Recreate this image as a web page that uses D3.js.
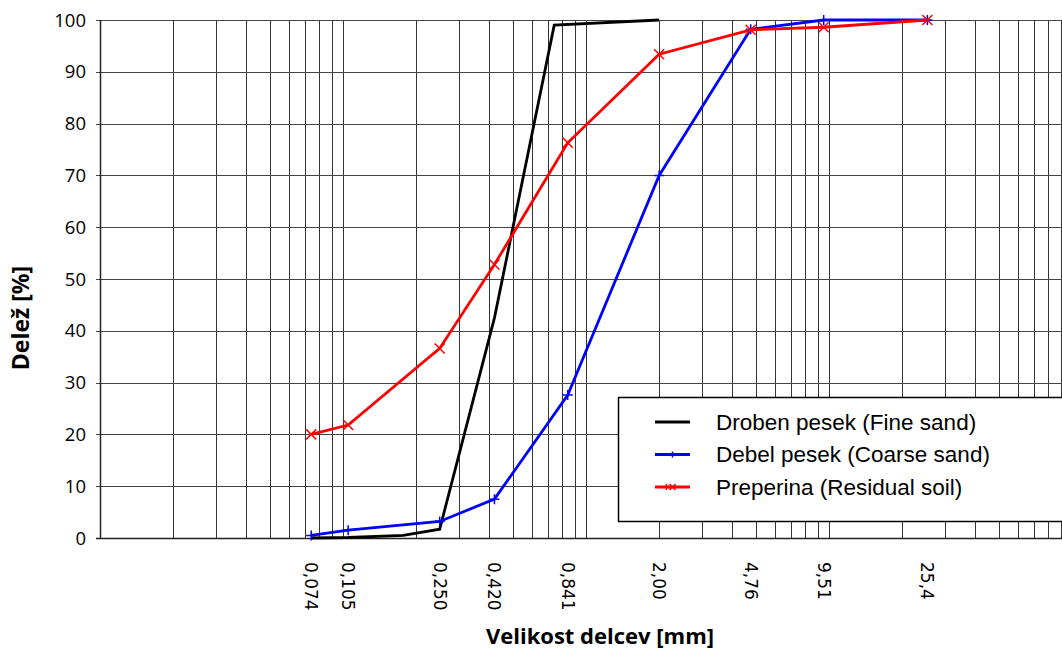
<!DOCTYPE html>
<html>
<head>
<meta charset="utf-8">
<script src="https://cdn.jsdelivr.net/npm/d3@7"></script>
<style>
  body { margin: 0; background: white; }
  svg { display: block; }
</style>
</head>
<body>
<svg id="chart" width="1062" height="649"></svg>
<script>
// sieve sizes [mm] and passing percentages
const sizeTicks = [0.074, 0.105, 0.250, 0.420, 0.841, 2.00, 4.76, 9.51, 25.4];
const sizeTickLabels = ["0,074", "0,105", "0,250", "0,420", "0,841", "2,00", "4,76", "9,51", "25,4"];

const fineSandSizes = [0.074, 0.105, 0.177, 0.250, 0.420, 0.74, 2.00];
const fineSandValues = [0, 0.1, 0.5, 1.7, 42.5, 99, 100];

const coarseSandSizes = [0.074, 0.105, 0.250, 0.420, 0.841, 2.00, 4.76, 9.51, 25.4];
const coarseSandValues = [0.5, 1.5, 3.2, 7.5, 27.6, 70, 98.2, 100, 100];

const residualSizes = [0.074, 0.105, 0.250, 0.420, 0.841, 2.00, 4.76, 9.51, 25.4];
const residualValues = [20, 21.8, 36.6, 52.8, 76.3, 93.4, 98.1, 98.6, 100];

const yTicks = [0, 10, 20, 30, 40, 50, 60, 70, 80, 90, 100];

const seriesNames = ["Droben pesek (Fine sand)", "Debel pesek (Coarse sand)", "Preperina (Residual soil)"];
const seriesColours = ["#000000", "#0000ff", "#ff0000"];
const seriesMarkers = [null, "plus", "cross"];

const series = [
    { sizes: fineSandSizes, values: fineSandValues },
    { sizes: coarseSandSizes, values: coarseSandValues },
    { sizes: residualSizes, values: residualValues }
].map((s, i) => ({
    name: seriesNames[i],
    colour: seriesColours[i],
    marker: seriesMarkers[i],
    points: s.sizes.map((x, j) => ({ x: x, y: s.values[j] }))
}));

const svg = d3.select("#chart");

const xScale = d3.scaleLog()
    .domain([0.01, 100])
    .range([100, 1072]);
const yScale = d3.scaleLinear()
    .domain([0, 100])
    .range([538, 20]);

// log grid: 1..9 in each decade
const gridValues = [];
[0.01, 0.1, 1, 10].forEach(dec => {
    for (let k = 1; k <= 9; k++) gridValues.push(dec * k);
});
gridValues.push(100);

const grid = svg.append("g");
grid.selectAll("line.vgrid")
    .data(gridValues)
    .join("line")
    .attr("class", "vgrid")
    .attr("x1", d => Math.round(xScale(d)) + 0.5)
    .attr("x2", d => Math.round(xScale(d)) + 0.5)
    .attr("y1", yScale(100))
    .attr("y2", yScale(0))
    .attr("stroke", "#333")
    .attr("stroke-width", 1);

grid.selectAll("line.hgrid")
    .data(yTicks)
    .join("line")
    .attr("class", "hgrid")
    .attr("x1", 96)
    .attr("x2", 1062)
    .attr("y1", d => Math.round(yScale(d)) + 0.5)
    .attr("y2", d => Math.round(yScale(d)) + 0.5)
    .attr("stroke", "#444")
    .attr("stroke-width", 1);

// axes lines
svg.append("line")
    .attr("x1", 100.5).attr("x2", 100.5)
    .attr("y1", yScale(100)).attr("y2", yScale(0))
    .attr("stroke", "#222").attr("stroke-width", 1.5);
svg.append("line")
    .attr("x1", 96).attr("x2", 1062)
    .attr("y1", yScale(0) + 0.5).attr("y2", yScale(0) + 0.5)
    .attr("stroke", "#222").attr("stroke-width", 1.5);

// y tick labels
svg.append("g").selectAll("text")
    .data(yTicks)
    .join("text")
    .attr("x", 86)
    .attr("y", d => yScale(d))
    .attr("dy", "0.36em")
    .attr("text-anchor", "end")
    .attr("font-family", "Open Sans")
    .attr("font-size", 18.5)
    .attr("fill", "#000")
    .text(d => d);

// x tick labels (rotated)
svg.append("g").selectAll("text")
    .data(sizeTicks)
    .join("text")
    .attr("transform", d => `translate(${xScale(d)},${562})rotate(90)`)
    .attr("dy", "0.36em")
    .attr("text-anchor", "start")
    .attr("font-family", "DejaVu Sans")
    .attr("font-size", 17)
    .attr("fill", "#000")
    .text((d, i) => sizeTickLabels[i]);

// axis titles
svg.append("text")
    .attr("x", 600)
    .attr("y", 644)
    .attr("text-anchor", "middle")
    .attr("font-family", "Open Sans")
    .attr("font-weight", "bold")
    .attr("font-size", 22)
    .text("Velikost delcev [mm]");

svg.append("text")
    .attr("transform", `translate(29,318)rotate(-90)`)
    .attr("text-anchor", "middle")
    .attr("font-family", "Open Sans")
    .attr("font-weight", "bold")
    .attr("font-size", 23)
    .text("Delež [%]");

// series
const line = d3.line()
    .x(d => xScale(d.x))
    .y(d => yScale(d.y));

const drawMarker = (g, type, colour, size) => {
    if (type === "plus") {
        g.append("path")
            .attr("d", `M${-size},0H${size}M0,${-size}V${size}`)
            .attr("stroke", colour).attr("stroke-width", 1.5).attr("fill", "none");
    } else if (type === "cross") {
        g.append("path")
            .attr("d", `M${-size},${-size}L${size},${size}M${-size},${size}L${size},${-size}`)
            .attr("stroke", colour).attr("stroke-width", 1.5).attr("fill", "none");
    }
};

series.forEach(s => {
    svg.append("path")
        .datum(s.points)
        .attr("d", line)
        .attr("fill", "none")
        .attr("stroke", s.colour)
        .attr("stroke-width", 2.8)
        .attr("stroke-linejoin", "miter");

    if (s.marker) {
        s.points.forEach(p => {
            const g = svg.append("g")
                .attr("transform", `translate(${xScale(p.x)},${yScale(p.y)})`);
            drawMarker(g, s.marker, s.colour, 5);
        });
    }
});

// legend
const legend = svg.append("g").attr("transform", "translate(618,397)");
legend.append("rect")
    .attr("x", 0.5).attr("y", 0.5)
    .attr("width", 480).attr("height", 124)
    .attr("fill", "white")
    .attr("stroke", "#000")
    .attr("stroke-width", 1.5);

const legendItems = legend.selectAll("g.item")
    .data(series)
    .join("g")
    .attr("class", "item")
    .attr("transform", (d, i) => `translate(0,${25 + i * 32.5})`);

legendItems.append("line")
    .attr("x1", 37).attr("x2", 72)
    .attr("y1", 0).attr("y2", 0)
    .attr("stroke", d => d.colour)
    .attr("stroke-width", 2.8);

legendItems.each(function(d) {
    if (d.marker) {
        const g = d3.select(this).append("g").attr("transform", "translate(54.5,0)");
        if (d.marker === "plus") {
            g.append("path").attr("d", "M0,-3V3").attr("stroke", d.colour).attr("stroke-width", 1.5);
        } else {
            g.append("path").attr("d", "M-3,-3L3,3M-3,3L3,-3M-6,-3V3").attr("stroke", d.colour).attr("stroke-width", 1.5);
        }
    }
});

legendItems.append("text")
    .attr("x", 98)
    .attr("y", 0)
    .attr("dy", "0.35em")
    .attr("font-family", "Liberation Sans")
    .attr("font-size", 22.5)
    .attr("fill", "#000")
    .text(d => d.name);
</script>
</body>
</html>
